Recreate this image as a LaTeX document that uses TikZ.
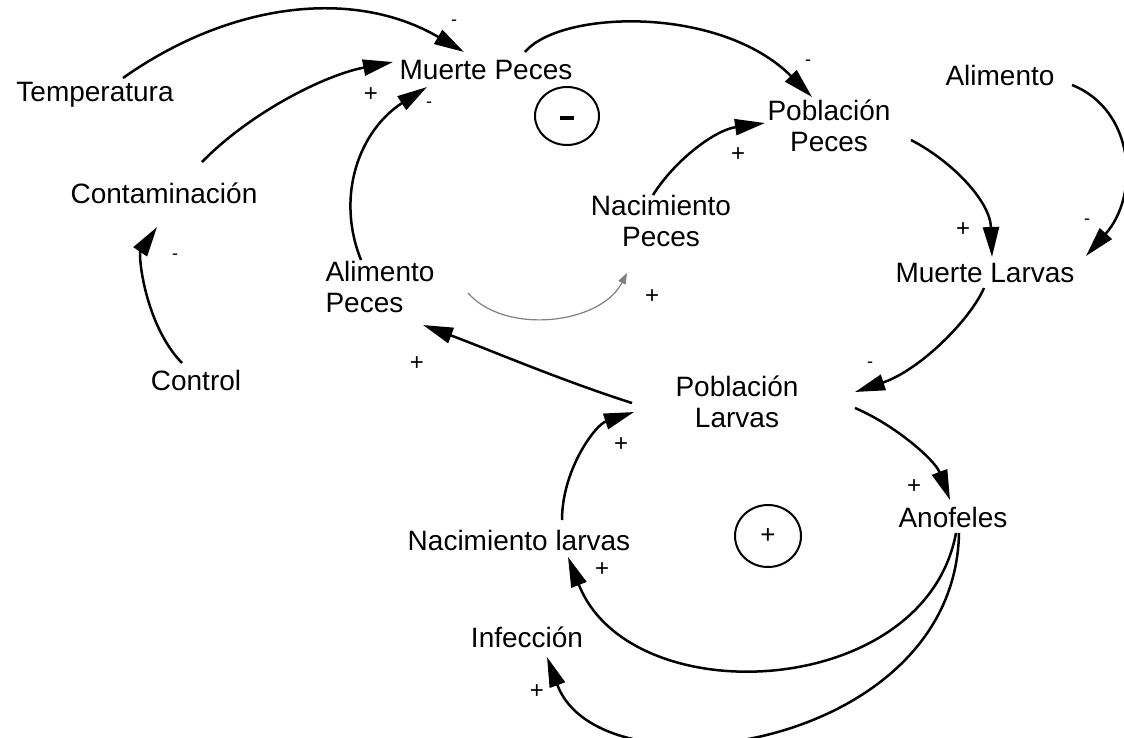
\documentclass[tikz,border=0pt]{standalone}
\usepackage{fontspec}
\setmainfont{Liberation Sans}
\usetikzlibrary{arrows.meta,calc,shapes.geometric}
\begin{document}
\begin{tikzpicture}[x=1pt,y=1pt,
  var/.style={font=\fontsize{28}{31}\selectfont, inner sep=0pt, align=center},
  link/.style={line width=2.5pt, -{Triangle[length=30pt,width=16pt]}},
  thinlink/.style={line width=1.2pt, draw=black!50, -{Triangle[length=11pt,width=8pt]}},
  pol/.style={font=\fontsize{24}{24}\selectfont, inner sep=0pt},
  neg/.style={font=\fontsize{18}{18}\selectfont, inner sep=0pt},
  loopmark/.style={draw, line width=2pt, ellipse, inner sep=0pt},
  loopsign/.style={font=\fontsize{26}{26}\selectfont, inner sep=0pt}]
\useasboundingbox (0,0) rectangle (1124,-737);
\fill[white] (0,0) rectangle (1124,-737);

% variables
\node[var] (temp)  at (95,-95)   {Temperatura};
\node[var] (mp)    at (486,-70)  {Muerte Peces};
\node[var] (cont)  at (164,-193) {Contaminación};
\node[var] (ctrl)  at (196,-380) {Control};
\node[var, align=left] (ap) at (380,-287) {Alimento\\Peces};
\node[var] (np)    at (661,-221) {Nacimiento\\Peces};
\node[var] (pp)    at (829,-126) {Población\\Peces};
\node[var] (alim)  at (1000,-75) {Alimento};
\node[var] (ml)    at (985,-273) {Muerte Larvas};
\node[var] (pl)    at (737,-402) {Población\\Larvas};
\node[var] (an)    at (953,-517) {Anofeles};
\node[var] (nl)    at (519,-540) {Nacimiento larvas};
\node[var] (inf)   at (527,-637) {Infección};

% loop markers
\node[loopmark, minimum width=64pt, minimum height=58pt] (bal) at (567,-116) {};
\draw[line width=3.5pt] ($(bal)+(-7,-2)$) -- ($(bal)+(7,-2)$);
\node[loopmark, minimum width=66pt, minimum height=62pt] (rein) at (768,-536) {};
\node[loopsign] (reinsign) at (rein) {+};

% causal links
\draw[link] ($(temp)+(28,17)$) .. controls (229,-3) and (353,13) .. ($(mp)+(-22,18)$);
\draw[link] ($(cont)+(38,31)$) .. controls (251,-112) and (325,-75) .. ($(mp)+(-93,8)$);
\draw[link] ($(ap)+(-19,27)$) .. controls (335,-195) and (360,-130) .. ($(mp)+(-59,-17)$);
\draw[link] ($(ctrl)+(-14,17)$) .. controls (145,-325) and (138,-255) .. ($(cont)+(-7,-34)$);
\draw[link] ($(mp)+(39,18)$) .. controls (560,-10) and (720,-5) .. ($(pp)+(-17,29)$);
\draw[link] ($(np)+(-8,26)$) .. controls (675,-160) and (715,-130) .. ($(pp)+(-64,3)$);
\draw[link] ($(pp)+(82,-14)$) .. controls (950,-160) and (990,-200) .. ($(ml)+(7,16)$);
\draw[link] ($(alim)+(72,-10)$) .. controls (1135,-110) and (1140,-195) .. ($(ml)+(101,17)$);
\draw[link] ($(ml)+(-1,-15)$) .. controls (970,-320) and (920,-370) .. ($(pl)+(118,10)$);
\draw[link] ($(pl)+(118,-6)$) .. controls (895,-425) and (935,-460) .. ($(an)+(-3,17)$);
\draw[link] ($(pl)+(-105,-1)$) .. controls (560,-380) and (490,-350) .. ($(ap)+(43,-38)$);
\draw[link] ($(nl)+(43,20)$) .. controls (562,-470) and (595,-425) .. ($(pl)+(-103,-10)$);
\draw[link] ($(an)+(3,-16)$) .. controls (925,-700) and (630,-715) .. ($(nl)+(49,-17)$);
\draw[link] ($(an)+(6,-16)$) .. controls (955,-750) and (600,-800) .. ($(inf)+(20,-20)$);
\draw[thinlink] ($(ap)+(88,-6)$) .. controls (505,-335) and (600,-325) .. ($(np)+(-34,-52)$);

% polarities
\node[neg] (s1)  at (454,-23)  {-};
\node[pol] (s2)  at (371,-95)  {+};
\node[neg] (s3)  at (429,-105) {-};
\node[neg] (s4)  at (175,-257) {-};
\node[neg] (s5)  at (808,-63)  {-};
\node[pol] (s6)  at (738,-155) {+};
\node[pol] (s7)  at (963,-230) {+};
\node[neg] (s8)  at (1087,-222) {-};
\node[neg] (s9)  at (870,-365) {-};
\node[pol] (s10) at (914,-487) {+};
\node[pol] (s11) at (417,-364) {+};
\node[pol] (s12) at (621,-445) {+};
\node[pol] (s13) at (602,-570) {+};
\node[pol] (s14) at (537,-692) {+};
\node[pol] (s15) at (652,-297) {+};
\end{tikzpicture}
\end{document}
